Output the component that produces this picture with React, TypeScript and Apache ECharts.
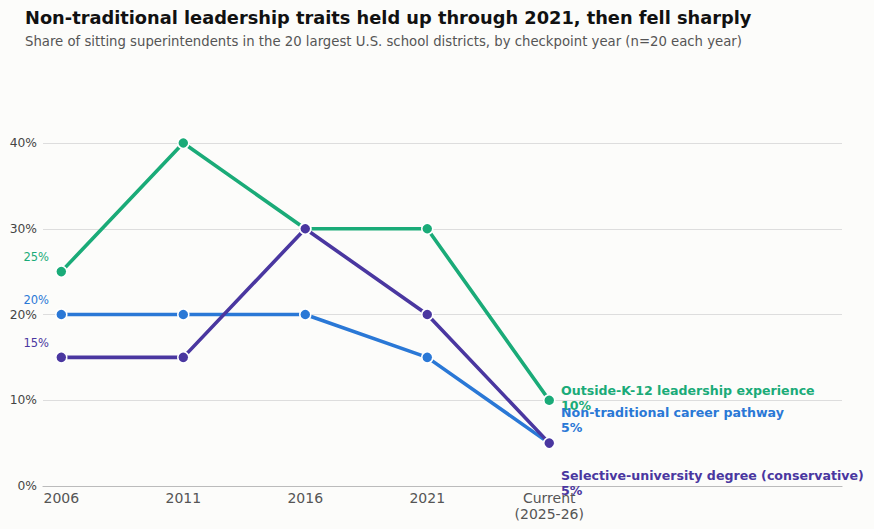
import React, { useEffect, useRef } from "react";
import * as echarts from "echarts";

const categories = ["2006", "2011", "2016", "2021", "Current\n(2025-26)"];
const outsideK12 = [25, 40, 30, 30, 10];
const nonTraditional = [20, 20, 20, 15, 5];
const selectiveUni = [15, 15, 30, 20, 5];
const seriesNames = [
  "Outside-K-12 leadership experience",
  "Non-traditional career pathway",
  "Selective-university degree (conservative)",
];
const colors = ["#1aab78", "#2a78d6", "#4a37a0"];
const yTicks = [0, 10, 20, 30, 40];

const FONT = "DejaVu Sans";

export default function App() {
  const ref = useRef<HTMLDivElement>(null);
  useEffect(() => {
    document.body.style.margin = "0";
    const chart = echarts.init(ref.current!, null, { renderer: "svg" });
    const endOffsets = [3.5, -16.5, 46.5];
    const mk = (name: string, vals: number[], i: number) => ({
      name,
      type: "line",
      data: vals.map((v, j) => {
        const item: any = { value: [j, v] };
        if (j === 0) {
          item.label = {
            show: true,
            formatter: v + "%",
            position: [-6, -8],
            align: "right",
            verticalAlign: "middle",
            color: colors[i],
            fontSize: 11.5,
            fontFamily: FONT,
          };
        } else if (j === vals.length - 1) {
          item.label = {
            show: true,
            formatter: name + "\n" + v + "%",
            position: [18, endOffsets[i]],
            align: "left",
            verticalAlign: "middle",
            color: colors[i],
            fontSize: 12.6,
            fontWeight: "bold",
            lineHeight: 15,
            fontFamily: FONT,
          };
        }
        return item;
      }),
      symbol: "circle",
      symbolSize: 11,
      lineStyle: { width: 3.6, color: colors[i] },
      itemStyle: { color: colors[i], borderColor: "#ffffff", borderWidth: 1.5 },
      label: { show: false },
      z: 2 + i,
    });
    chart.setOption({
      animation: false,
      backgroundColor: "#fcfcfa",
      textStyle: { fontFamily: FONT },
      title: [
        {
          text: "Non-traditional leadership traits held up through 2021, then fell sharply",
          left: 20,
          top: 3,
          textStyle: { fontSize: 17.8, fontWeight: "bold", color: "#111", fontFamily: FONT },
        },
        {
          text: "Share of sitting superintendents in the 20 largest U.S. school districts, by checkpoint year (n=20 each year)",
          left: 20,
          top: 30,
          textStyle: { fontSize: 13.25, fontWeight: "normal", color: "#555", fontFamily: FONT },
        },
      ],
      grid: { left: 43, right: 32, top: 143, bottom: 43, containLabel: false },
      xAxis: {
        type: "value",
        min: -0.15,
        max: 6.4,
        splitLine: { show: false },
        axisLine: { show: true, lineStyle: { color: "#bbbbbb", width: 1.2 } },
        axisTick: { show: false },
        axisLabel: {
          customValues: [0, 1, 2, 3, 4],
          formatter: (v: number) => categories[Math.round(v)] ?? "",
          color: "#555",
          fontSize: 14,
          fontFamily: FONT,
          margin: 4,
          lineHeight: 16,
        },
      },
      yAxis: {
        type: "value",
        min: 0,
        max: 40,
        interval: 10,
        axisLine: { show: false },
        axisTick: { show: false },
        splitLine: { lineStyle: { color: "#dddddd", width: 1 } },
        axisLabel: {
          customValues: yTicks,
          formatter: (v: number) => v + "%",
          color: "#444",
          fontSize: 12.3,
          fontFamily: FONT,
          margin: 6,
        },
      },
      series: [
        mk(seriesNames[0], outsideK12, 0),
        mk(seriesNames[1], nonTraditional, 1),
        mk(seriesNames[2], selectiveUni, 2),
      ],
    });
    return () => chart.dispose();
  }, []);
  return <div ref={ref} style={{ width: 874, height: 529 }} />;
}
